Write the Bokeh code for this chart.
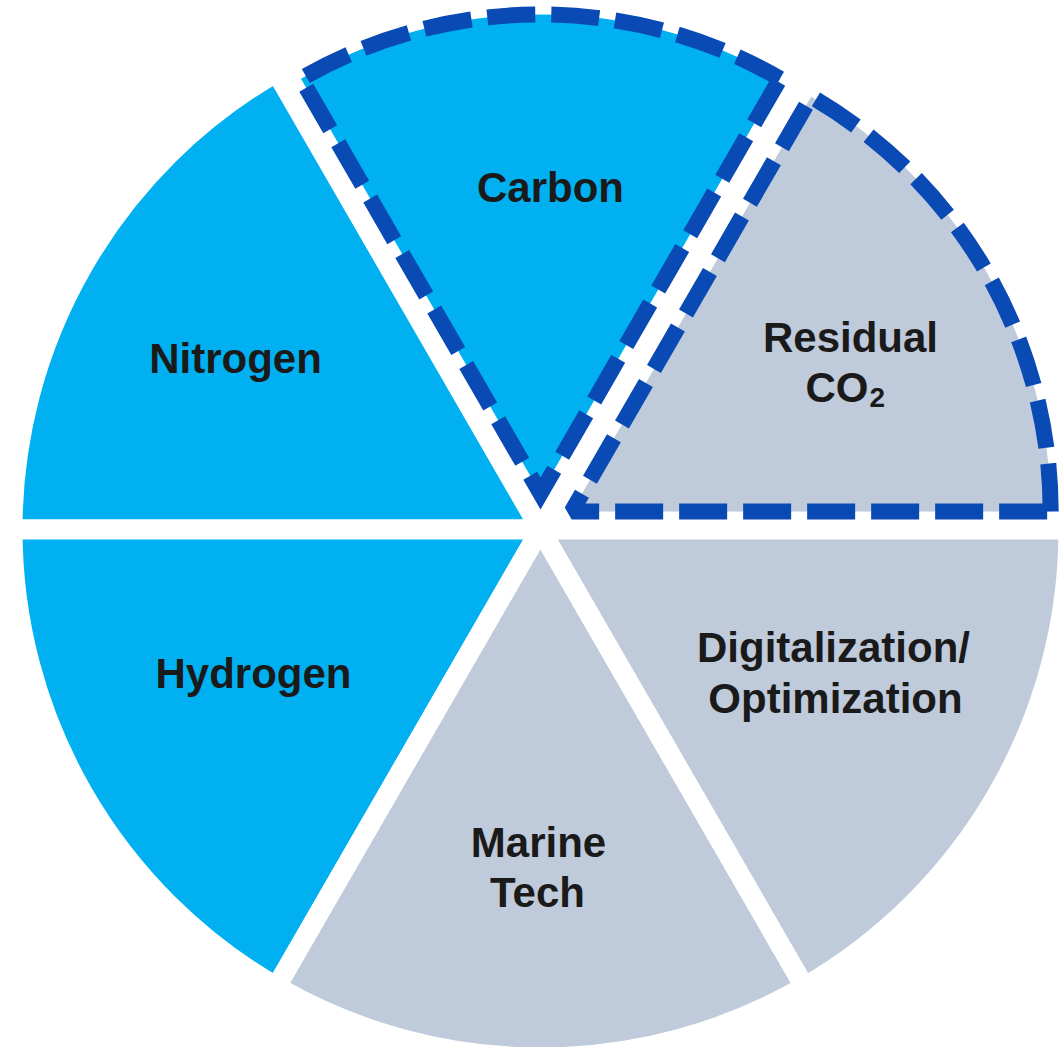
import numpy as np
from bokeh.plotting import figure
from bokeh.models import ColumnDataSource, Range1d
from bokeh.core.properties import value
from bokeh.embed import file_html
from bokeh.resources import INLINE

# ---------------- data ----------------
categories = ["Residual CO2", "Carbon", "Nitrogen", "Hydrogen", "Marine Tech", "Digitalization/Optimization"]
shares = [1, 1, 1, 1, 1, 1]                      # six equal segments
groups = ["other", "element", "element", "element", "other", "other"]
highlighted = [True, True, False, False, False, False]

# label lines (main text) and their anchor (x, baseline y) in chart pixels relative to the centre
label_text = ["Residual", "CO", "Carbon", "Nitrogen", "Hydrogen", "Marine", "Tech",
              "Digitalization/", "Optimization"]
label_x = [310, 328, 10, -305, -287, -2, -3, 293, 295]
label_y = [192, 142, 342, 171, -144, -313, -363, -118, -169]
label_align = ["center", "right", "center", "center", "center", "center", "center", "center", "center"]
sub_text = ["2"]
sub_x = [329]
sub_y = [132]

# ---------------- style ----------------
COLORS = {"element": "#00B0F0", "other": "#BFCADA"}
DASH_BLUE = "#0A4AB4"
TEXT_COLOR = "#1A1A1A"
FONT = "Liberation Sans"
R_OUT = 528      # radius before the white gap stroke
GAP = 20         # white gap between segments
INSET = 36       # shift of highlighted segments towards the rim
R_HI = 479       # radius of highlighted segments
JOINS = {"Residual CO2": "bevel", "Carbon": "miter"}

# ---------------- geometry from data ----------------
total = float(sum(shares))
edges = np.concatenate([[0.0], np.cumsum(shares)]) / total * 2 * np.pi
start = edges[:-1]
end = edges[1:]
mid = (start + end) / 2
fill = [COLORS[g] for g in groups]

norm_idx = [i for i, h in enumerate(highlighted) if not h]
hi_idx = [i for i, h in enumerate(highlighted) if h]

src_norm = ColumnDataSource(dict(
    x=[0.0] * len(norm_idx), y=[0.0] * len(norm_idx),
    start=[start[i] for i in norm_idx], end=[end[i] for i in norm_idx],
    color=[fill[i] for i in norm_idx], name=[categories[i] for i in norm_idx]))

W, H = 1061, 1047
CX, CY = 540, 529   # centre position in figure pixels (from top-left)

p = figure(width=W, height=H, x_range=Range1d(-CX, W - CX), y_range=Range1d(-(H - CY), CY),
           x_axis_type=None, y_axis_type=None, output_backend="svg",
           toolbar_location=None, min_border=0, title=None)
p.grid.visible = False
p.outline_line_color = None
p.background_fill_color = "white"
p.border_fill_color = "white"

p.wedge(x="x", y="y", radius=R_OUT, start_angle="start", end_angle="end",
        source=src_norm, fill_color="color", line_color="white", line_width=GAP)

for i in hi_idx:
    src_hi = ColumnDataSource(dict(
        x=[INSET * np.cos(mid[i])], y=[INSET * np.sin(mid[i])],
        start=[start[i]], end=[end[i]], color=[fill[i]], name=[categories[i]]))
    p.wedge(x="x", y="y", radius=R_HI, start_angle="start", end_angle="end",
            source=src_hi, fill_color="color", line_color=DASH_BLUE, line_width=16,
            line_dash="48 16", line_join=JOINS.get(categories[i], "miter"))

src_lab = ColumnDataSource(dict(x=label_x, y=label_y, text=label_text, align=label_align))
p.text(x="x", y="y", text="text", source=src_lab, text_align="align",
       text_baseline="alphabetic", text_font=value(FONT), text_font_style="bold",
       text_font_size="42px", text_color=TEXT_COLOR)

src_sub = ColumnDataSource(dict(x=sub_x, y=sub_y, text=sub_text))
p.text(x="x", y="y", text="text", source=src_sub, text_align="left",
       text_baseline="alphabetic", text_font=value(FONT), text_font_style="bold",
       text_font_size="28px", text_color=TEXT_COLOR)

open("out.html", "w").write(file_html(p, INLINE))
